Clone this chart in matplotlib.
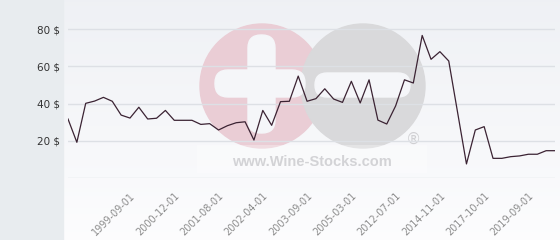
import numpy as np
import matplotlib
matplotlib.use("Agg")
import matplotlib.pyplot as plt
from matplotlib.patches import Circle, FancyBboxPatch, Rectangle

# prix (un point par date de cotation)
prices = [31.8, 19.3, 40.2, 41.4, 43.4, 41.3, 33.9, 32.3, 38.1, 31.8,
          32.2, 36.4, 31.1, 31.1, 31.1, 28.9, 29.3, 25.9, 28.2, 29.8,
          30.3, 20.5, 36.4, 28.4, 41.1, 41.3, 54.8, 41.3, 42.7, 48.0,
          42.5, 40.7, 52.0, 40.4, 52.8, 31.2, 29.1, 38.8, 52.8, 51.1,
          76.6, 63.8, 67.9, 62.9, 35.3, 7.7, 25.9, 27.7, 10.7, 10.7,
          11.6, 12.0, 12.9, 12.9, 14.8, 14.8]
date_labels = ["1999-09-01", "2000-12-01", "2001-08-01", "2002-04-01", "2003-09-01",
               "2005-03-01", "2012-07-01", "2014-11-01", "2017-10-01", "2019-09-01"]
y_ticks = [0, 20, 40, 60, 80]

fig = plt.figure(figsize=(5.6, 2.4), dpi=100)

# fond + filigrane, en coordonnées pixels
bg = fig.add_axes([0, 0, 1, 1], zorder=0)
bg.set_xlim(0, 560)
bg.set_ylim(240, 0)
bg.axis("off")
grad = np.linspace(0, 1, 120)[:, None, None]
top = np.array([0.937, 0.945, 0.960])
bot = np.array([0.990, 0.990, 0.995])
bg.imshow(top + (bot - top) * grad, extent=[63, 560, 240, 0], aspect="auto")
bg.add_patch(Rectangle((0, 0), 63, 240, color="#e8ecef"))

bg.add_patch(Circle((262, 86), 62, color="#eacdd5"))
bg.add_patch(Circle((363, 86), 62, color="#d9d9db"))
wm_white = "#f5f6f9"
bg.add_patch(FancyBboxPatch((248, 35), 27, 98, boxstyle="round,pad=0,rounding_size=13", color=wm_white))
bg.add_patch(FancyBboxPatch((215, 70), 90, 27, boxstyle="round,pad=0,rounding_size=13", color=wm_white))
bg.add_patch(FancyBboxPatch((315, 73), 95, 24, boxstyle="round,pad=0,rounding_size=12", color=wm_white))
bg.add_patch(Rectangle((197, 145), 230, 28, color="white", alpha=0.3, lw=0))
bg.text(312, 162, "www.Wine-Stocks.com", ha="center", va="center", fontsize=10.5,
        fontweight="bold", color="#d3d3d6", family="Liberation Sans")
bg.text(413, 139, "®", ha="center", va="center", fontsize=11, color="#d0d0d3")

# graphique principal
ax = fig.add_axes([68 / 560, (240 - 178.3) / 240, (555 - 68) / 560, 178.3 / 240], zorder=1)
ax.patch.set_alpha(0)
ax.set_xlim(0, len(prices) - 1)
ax.set_ylim(0, 95.6)
for s in ax.spines.values():
    s.set_visible(False)

ax.set_yticks(y_ticks)
ax.set_yticklabels(["" if v == 0 else f"{v} $" for v in y_ticks], fontsize=7.5, color="#333333")
ax.grid(axis="y", color="#dde0e5", lw=1)
ax.set_axisbelow(True)

ax.set_xticks(list(range(7, len(prices), 5)))
ax.set_xticklabels(date_labels, rotation=45, ha="right", rotation_mode="anchor",
                   fontsize=7, color="#8c8c8c")
ax.tick_params(axis="y", length=0, pad=6)
ax.tick_params(axis="x", length=0, pad=9)

ax.plot(range(len(prices)), prices, color="#3b2333", lw=0.9)

fig.savefig("out.png", dpi=100)
